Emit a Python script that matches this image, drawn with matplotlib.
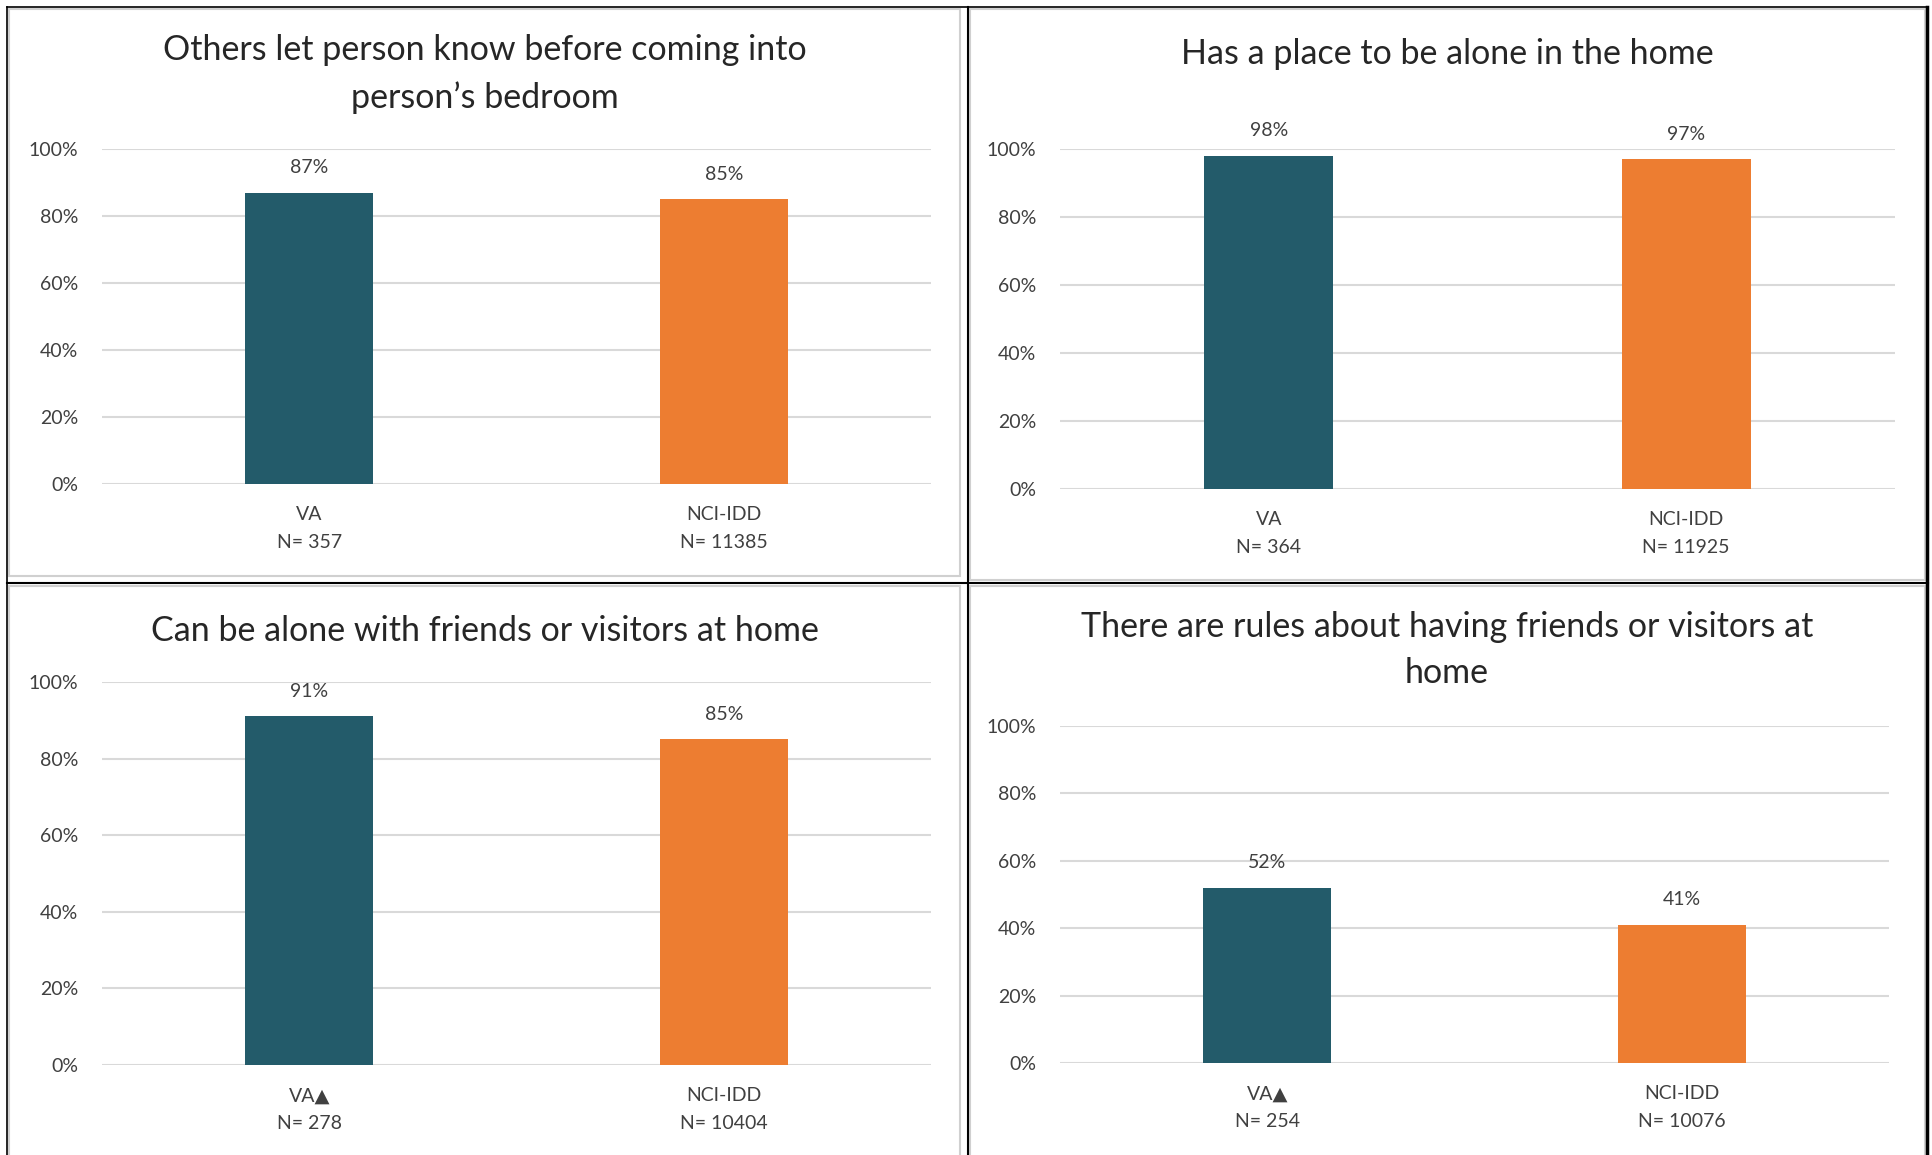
import matplotlib
matplotlib.use("Agg")
import matplotlib.pyplot as plt
from matplotlib.lines import Line2D
from matplotlib.patches import Rectangle
from matplotlib.ticker import PercentFormatter

plt.rcParams['font.family'] = ['Lato', 'DejaVu Sans']

titles = [
    "Others let person know before coming into\nperson\u2019s bedroom",
    "Has a place to be alone in the home",
    "Can be alone with friends or visitors at home",
    "There are rules about having friends or visitors at\nhome",
]
categories = [
    ["VA\nN= 357", "NCI-IDD\nN= 11385"],
    ["VA\nN= 364", "NCI-IDD\nN= 11925"],
    ["VA\u25B2\nN= 278", "NCI-IDD\nN= 10404"],
    ["VA\u25B2\nN= 254", "NCI-IDD\nN= 10076"],
]
values = [
    [0.87, 0.85],
    [0.98, 0.97],
    [0.91, 0.85],
    [0.52, 0.41],
]
yticks = [0, 0.2, 0.4, 0.6, 0.8, 1.0]

colors = ["#235B6A", "#ED7D31"]

W, H = 1933, 1155
fig = plt.figure(figsize=(W / 100, H / 100), dpi=100)


def px_box(x0, x1, ytop, ybot):
    return [x0 / W, 1 - ybot / H, (x1 - x0) / W, (ybot - ytop) / H]


# plot areas (pixels): x0, x1, y at 100%, y at 0%
areas = [
    (102, 931, 149, 484),
    (1060, 1895, 149, 489),
    (102, 931, 682, 1065),
    (1060, 1889, 726, 1063),
]
# title centres (pixels)
title_pos = [(485, 74), (1447, 54), (485, 631), (1447, 650)]

# panel frames: grey chart borders
chart_frames = [(9, 9, 960, 576), (970, 9, 1925, 580),
                (9, 586, 960, 1160), (970, 586, 1925, 1160)]
for x0, y0, x1, y1 in chart_frames:
    fig.add_artist(Rectangle((x0 / W, 1 - y1 / H), (x1 - x0) / W, (y1 - y0) / H,
                             transform=fig.transFigure, fill=False,
                             edgecolor="#D0D0D0", lw=1.5))

# black table lines
def hline(y, x0, x1, lw):
    fig.add_artist(Line2D([x0 / W, x1 / W], [1 - y / H, 1 - y / H], color="black", lw=lw))


def vline(x, y0, y1, lw):
    fig.add_artist(Line2D([x / W, x / W], [1 - y0 / H, 1 - y1 / H], color="black", lw=lw))


hline(7, 7, 1928, 1.2)
hline(583, 7, 1928, 1.5)
vline(7, 7, 1155, 1.2)
vline(968, 7, 1155, 1.5)
vline(1927, 7, 1155, 2.5)

for i in range(4):
    x0, x1, ytop, ybot = areas[i]
    ax = fig.add_axes(px_box(x0, x1, ytop, ybot))
    xs = range(len(values[i]))
    bars = ax.bar(xs, values[i], width=0.31, color=colors, zorder=3)
    ax.set_xlim(-0.5, 1.5)
    ax.set_ylim(0, 1.0)
    ax.set_yticks(yticks)
    ax.yaxis.set_major_formatter(PercentFormatter(1.0, decimals=0))
    ax.set_xticks(list(xs))
    ax.set_xticklabels(categories[i], fontsize=14, color="#404040", linespacing=1.75)
    ax.tick_params(axis="y", length=0, pad=17, labelsize=14, labelcolor="#404040")
    ax.tick_params(axis="x", length=0, pad=16)
    for sp in ax.spines.values():
        sp.set_visible(False)
    ax.grid(axis="y", color="#D9D9D9", lw=1.5, zorder=0)
    ax.set_axisbelow(True)
    for b, v in zip(bars, values[i]):
        ax.annotate(f"{round(v * 100)}%", (b.get_x() + b.get_width() / 2, v),
                    xytext=(0, 18), textcoords="offset points",
                    ha="center", va="center", fontsize=14, color="#404040",
                    annotation_clip=False)
    tx, ty = title_pos[i]
    fig.text(tx / W, 1 - ty / H, titles[i], ha="center", va="center",
             fontsize=24.5, color="#262626", linespacing=1.55)

fig.savefig("out.png", dpi=100, facecolor="white")
